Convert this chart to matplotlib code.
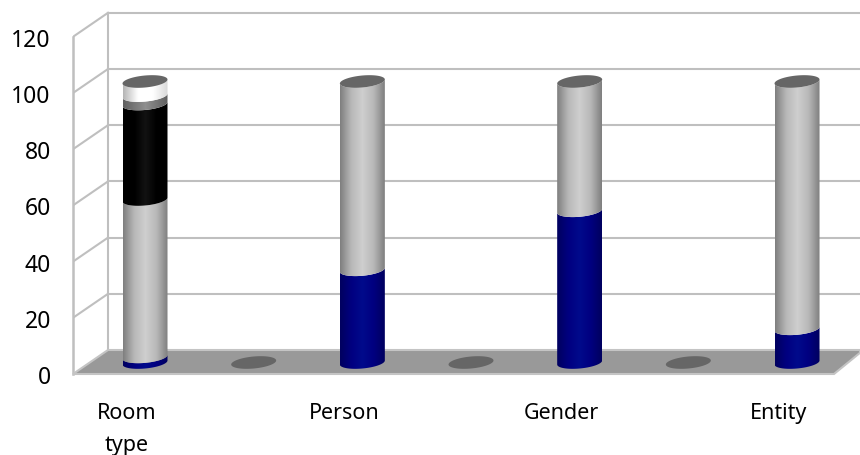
import matplotlib as mpl
mpl.use('Agg')

import matplotlib.pyplot as plt
from matplotlib.colors import LinearSegmentedColormap
from matplotlib.patches import PathPatch, Polygon
from matplotlib.path import Path
import numpy

plt.rcParams['font.family'] = ['Noto Sans', 'DejaVu Sans']

# data, blank slots are the empty categories between the columns
categories = ['Room\ntype', '', 'Person', '', 'Gender', '', 'Entity']
series_navy = [2, 0, 33, 0, 54, 0, 12]
series_grey = [56, 0, 67, 0, 46, 0, 88]
series_black = [34, 0, 0, 0, 0, 0, 0]
series_band = [3, 0, 0, 0, 0, 0, 0]
series_white = [5, 0, 0, 0, 0, 0, 0]
y_ticks = [0, 20, 40, 60, 80, 100, 120]

# pixel layout of the fake 3d box
W, H = 860, 456
LEFT, FLOOR, RIGHT = 73, 375, 860
PX_PER_UNIT = 2.81
SLOT = 108.67
FIRST = 145
DEPTH_X = 35 / SLOT
DEPTH_Y = 24 / PX_PER_UNIT
BAR_Y = 11.5 / PX_PER_UNIT
A = 22.5 / SLOT
B = 6 / PX_PER_UNIT
TILT = 2 / PX_PER_UNIT

GRID = '#bfbfbf'


def ramp(stops):
    return LinearSegmentedColormap.from_list('r', stops)


def rim(cx, cy):
    # lower half of the tilted ellipse, left to right
    t = numpy.linspace(numpy.pi, 2 * numpy.pi, 40)
    return cx + A * numpy.cos(t), cy + B * numpy.sin(t) + TILT * numpy.cos(t)


def lid(ax, cx, cy, color):
    t = numpy.linspace(0, 2 * numpy.pi, 80)
    x = cx + A * numpy.cos(t)
    y = cy + B * numpy.sin(t) + TILT * numpy.cos(t)
    ax.fill(x, y, color=color, lw=0, zorder=6)


def segment(ax, cx, bottom, top, cmap):
    xb, yb = rim(cx, bottom + BAR_Y)
    xt, yt = rim(cx, top + BAR_Y)
    verts = numpy.r_[numpy.c_[xb, yb], numpy.c_[xt[::-1], yt[::-1]], [[xb[0], yb[0]]]]
    path = PathPatch(Path(verts), transform=ax.transData, fc='none', ec='none')
    ax.add_patch(path)
    grad = numpy.linspace(0, 1, 128)[None, :]
    im = ax.imshow(grad, cmap=cmap, extent=[cx - A, cx + A, bottom - 3, top + BAR_Y + 3],
                   aspect='auto', zorder=5, interpolation='bilinear')
    im.set_clip_path(path)


fig = plt.figure(figsize=(W / 100, H / 100), dpi=100)
ax = fig.add_axes([LEFT / W, (H - FLOOR) / H, (RIGHT - LEFT) / W, FLOOR / H])
ax.set_facecolor('none')

for s in ax.spines.values():
    s.set_visible(False)

xmin = (LEFT - FIRST) / SLOT
xmax = (RIGHT - FIRST) / SLOT
ymax = FLOOR / PX_PER_UNIT

# floor
floor = Polygon([[xmin, 0], [xmin + DEPTH_X, DEPTH_Y], [xmax, DEPTH_Y],
                 [xmax, DEPTH_Y - 1], [(834 - FIRST) / SLOT, 0]],
                closed=True, fc='#999999', ec='#c4c4c4', lw=1.5, zorder=3, clip_on=False)
ax.add_patch(floor)

# walls and gridlines
for v in y_ticks[1:]:
    ax.plot([xmin + DEPTH_X, xmax], [v + DEPTH_Y, v + DEPTH_Y], color=GRID, lw=1.5, zorder=1)
    ax.plot([xmin, xmin + DEPTH_X], [v, v + DEPTH_Y], color=GRID, lw=1.5, zorder=1)
ax.plot([xmin, xmin], [0, 120], color=GRID, lw=1.8, zorder=1, clip_on=False)
ax.plot([xmin + DEPTH_X] * 2, [DEPTH_Y, 120 + DEPTH_Y], color=GRID, lw=1.5, zorder=1)

# columns
stack = [
    (series_navy, ramp(['#00005f', '#000080', '#000a8c', '#000080', '#00005f'])),
    (series_grey, ramp(['#7f7f7f', '#b8b8b8', '#cfcfcf', '#b8b8b8', '#7f7f7f'])),
    (series_black, ramp(['#000000', '#000000', '#121212', '#000000', '#000000'])),
    (series_band, ramp(['#5f5f5f', '#8f8f8f', '#5f5f5f'])),
    (series_white, ramp(['#b5b5b5', '#ffffff', '#ffffff', '#d8d8d8'])),
]

for i in range(len(categories)):
    base = 0
    for values, cmap in stack:
        v = values[i]
        if v > 0:
            segment(ax, i, base, base + v, cmap)
        base += v
    lid(ax, i, base + BAR_Y, '#666666')

ax.set_xlim(xmin, xmax)
ax.set_ylim(0, ymax)

# labels sit on the front plane, left of the columns
labelled = [i for i, c in enumerate(categories) if c]
ax.set_xticks([i - 18 / SLOT for i in labelled])
ax.set_xticklabels([categories[i] for i in labelled], fontsize=15.5, linespacing=1.72,
                   va='top', color='#000000')
ax.set_yticks(y_ticks)
ax.set_yticklabels([str(v) for v in y_ticks], fontsize=16.5, color='#000000')
ax.tick_params(axis='both', length=0)
ax.tick_params(axis='x', pad=20)
ax.tick_params(axis='y', pad=16)

plt.savefig('out.png', dpi=100)
